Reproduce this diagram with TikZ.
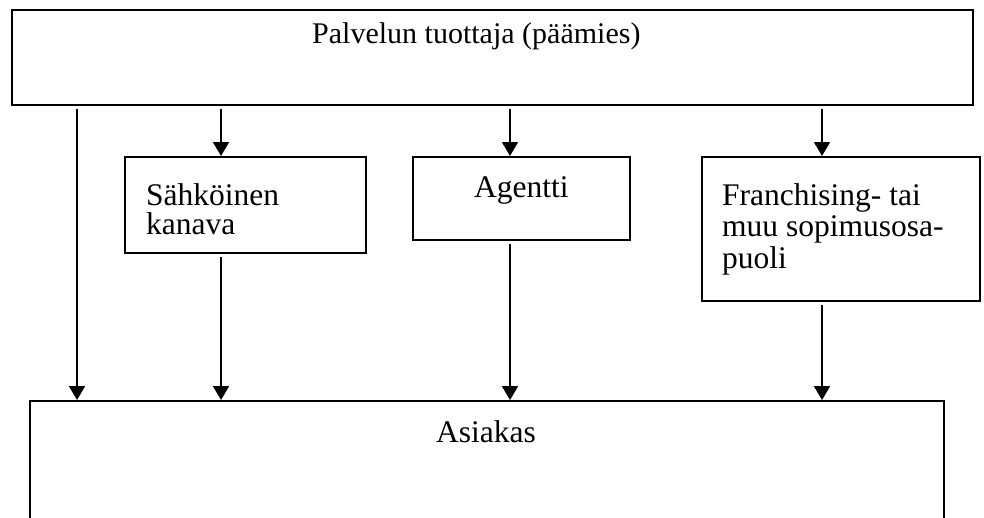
\documentclass[tikz,border=0pt]{standalone}
\usepackage{fontspec}
\setmainfont{Liberation Serif}
\usetikzlibrary{arrows.meta}
\begin{document}
\begin{tikzpicture}[x=1pt,y=-1pt,
  box/.style={draw=black,line width=2pt,rectangle,inner sep=0pt,anchor=north west},
  lbl/.style={anchor=base west,inner sep=0pt,align=left,font=\fontsize{31.5}{31}\selectfont},
  arr/.style={line width=2pt,-{Triangle[length=14pt,width=16pt]},shorten <=3pt}]
\useasboundingbox (0,0) rectangle (984,517);
\clip (0,0) rectangle (984,517);
\fill[white] (0,0) rectangle (984,517);
% boxes
\node[box,minimum width=961pt,minimum height=95pt] (top) at (11,9) {};
\node[box,minimum width=241pt,minimum height=96pt] (sah) at (124,156) {};
\node[box,minimum width=217pt,minimum height=83pt] (agent) at (412,156) {};
\node[box,minimum width=278pt,minimum height=144pt] (fran) at (701,156) {};
\node[box,minimum width=914pt,minimum height=160pt] (asi) at (29,400) {};
% labels (base anchor = baseline of the last line)
\node[lbl,font=\fontsize{30}{31}\selectfont] (ltop) at (312,43) {Palvelun tuottaja (päämies)};
\node[lbl] (lsah) at (146,234) {Sähköinen\\[-2pt]kanava};
\node[lbl] (lagent) at (474,197) {Agentti};
\node[lbl] (lfran) at (722,268) {Franchising- tai\\[0.5pt]muu sopimusosa-\\[0.5pt]puoli};
\node[lbl] (lasi) at (436,442) {Asiakas};
% arrow x positions
\coordinate (x1) at (77,0);
\coordinate (x2) at (221,0);
\coordinate (x3) at (510,0);
\coordinate (x4) at (822,0);
% connectors
\draw[arr] (top.south -| x1) -- (asi.north -| x1);
\draw[arr] (top.south -| x2) -- (sah.north -| x2);
\draw[arr] (top.south -| x3) -- (agent.north -| x3);
\draw[arr] (top.south -| x4) -- (fran.north -| x4);
\draw[arr] (sah.south -| x2) -- (asi.north -| x2);
\draw[arr] (agent.south -| x3) -- (asi.north -| x3);
\draw[arr] (fran.south -| x4) -- (asi.north -| x4);
\end{tikzpicture}
\end{document}
